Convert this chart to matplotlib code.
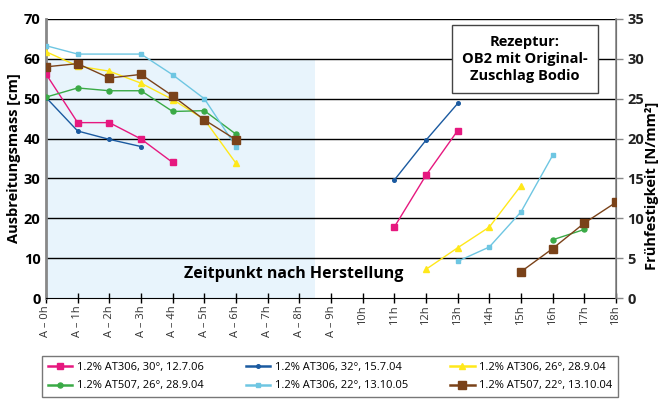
import numpy as np
import matplotlib.pyplot as plt
from matplotlib.lines import Line2D

plt.rcParams['font.family'] = ['Open Sans', 'DejaVu Sans']

# ==========================
# Daten
# ==========================
zeit_labels = ["A – 0h", "A – 1h", "A – 2h", "A – 3h", "A – 4h", "A – 5h",
               "A – 6h", "A – 7h", "A – 8h", "A – 9h", "10h", "11h", "12h",
               "13h", "14h", "15h", "16h", "17h", "18h"]

# Ausbreitungsmass [cm] (linke Achse), Index = Stunde
ab_magenta = [56.2, 44.0, 44.0, 39.9, 34.0]
ab_blau = [50.3, 41.9, 39.8, 38.0]
ab_gelb = [61.8, 58.2, 56.9, 53.9, 49.8, 44.8, 33.8]
ab_gruen = [50.4, 52.7, 52.0, 52.0, 46.8, 47.0, 41.1]
ab_cyan = [63.3, 61.2, None, 61.2, 56.0, 50.0, 38.0]
ab_braun = [58.0, 58.8, 55.2, 56.1, 50.7, 44.7, 39.7]

# Frühfestigkeit [N/mm²] (rechte Achse)
ff_magenta_h = [11, 12, 13]
ff_magenta = [8.9, 15.4, 21.0]
ff_blau_h = [11, 12, 13]
ff_blau = [14.8, 19.8, 24.4]
ff_gelb_h = [12, 13, 14, 15]
ff_gelb = [3.6, 6.3, 8.9, 14.1]
ff_gruen_h = [16, 17]
ff_gruen = [7.3, 8.6]
ff_cyan_h = [13, 14, 15, 16]
ff_cyan = [4.6, 6.4, 10.8, 17.9]
ff_braun_h = [15, 16, 17, 18]
ff_braun = [3.3, 6.2, 9.4, 12.0]

serien = [
    ("1.2% AT306, 30°, 12.7.06", "#e6187f", "s", 4.2, ab_magenta, ff_magenta_h, ff_magenta),
    ("1.2% AT306, 32°, 15.7.04", "#1b5aa0", "o", 2.6, ab_blau, ff_blau_h, ff_blau),
    ("1.2% AT306, 26°, 28.9.04", "#ffe81a", "^", 4.2, ab_gelb, ff_gelb_h, ff_gelb),
    ("1.2% AT507, 26°, 28.9.04", "#3aaa46", "o", 3.6, ab_gruen, ff_gruen_h, ff_gruen),
    ("1.2% AT306, 22°, 13.10.05", "#6ec6e2", "s", 3.0, ab_cyan, ff_cyan_h, ff_cyan),
    ("1.2% AT507, 22°, 13.10.04", "#7a4219", "s", 5.2, ab_braun, ff_braun_h, ff_braun),
]

# ==========================
# Grafik
# ==========================
fig = plt.figure(figsize=(6.61, 4.0), dpi=100)
ax = fig.add_axes([46 / 661, 1 - 298 / 400, 570 / 661, 279 / 400])
ax2 = ax.twinx()

x = np.arange(len(zeit_labels))

# Bereich "Zeitpunkt nach Herstellung"
ax.fill_between([0, 8.5], 0, 60, color="#e8f4fc", zorder=0, lw=0)

for yv in range(10, 71, 10):
    ax.axhline(yv, color="black", lw=1, zorder=1)

handles = {}
for label, farbe, marker, ms, ab, fh, ff in serien:
    hx = [i for i, v in enumerate(ab) if v is not None]
    hy = [v for v in ab if v is not None]
    ax.plot(hx, hy, color=farbe, marker=marker, ms=ms, lw=1, zorder=3)
    ax2.plot(fh, ff, color=farbe, marker=marker, ms=ms, lw=1, zorder=3)
    handles[label] = Line2D([], [], color=farbe, marker=marker, ms=ms,
                            lw=1.8, alpha=1)

ax.set_xlim(0, 18)
ax.set_ylim(0, 70)
ax2.set_ylim(0, 35)
ax.set_yticks(range(0, 71, 10))
ax2.set_yticks(range(0, 36, 5))

ax.set_xticks(x)
ax.set_xticklabels(zeit_labels, rotation=90, fontsize=8, color="#333333")
ax.tick_params(axis="x", direction="inout", length=7, width=1, pad=2)
ax.tick_params(axis="y", length=0, labelsize=10.5, pad=4)
ax2.tick_params(axis="y", direction="out", length=5, width=1,
                colors="#888888", labelcolor="#222222", labelsize=10.5, pad=3)
for t in ax.get_yticklabels() + ax2.get_yticklabels():
    t.set_fontweight("bold")

for s in ["top"]:
    ax.spines[s].set_visible(False)
    ax2.spines[s].set_visible(False)
ax.spines["left"].set_color("#888888")
ax.spines["left"].set_linewidth(2)
ax2.spines["right"].set_color("#888888")
ax2.spines["right"].set_linewidth(1.2)
ax.spines["bottom"].set_color("black")
ax2.spines["bottom"].set_visible(False)
ax2.spines["left"].set_visible(False)

ax.set_ylabel("Ausbreitungsmass [cm]", fontsize=10.5, fontweight="bold", labelpad=2)
fig.text(652 / 661, 1 - 270 / 400, "Frühfestigkeit [N/mm²]", rotation=90,
         fontsize=10.5, fontweight="bold", ha="center", va="bottom")

ax.text(7.83, 6.0, "Zeitpunkt nach Herstellung", fontsize=11.5,
        fontweight="bold", ha="center", va="center", zorder=4)

ax2.text(525 / 661, 1 - 59 / 400, "Rezeptur:\nOB2 mit Original-\nZuschlag Bodio",
         transform=fig.transFigure, fontsize=10.5, fontweight="bold",
         ha="center", va="center", linespacing=1.25, zorder=5,
         bbox=dict(boxstyle="square,pad=0.7", fc="white", ec="#444444", lw=1))

reihenfolge = [serien[0][0], serien[3][0], serien[1][0],
               serien[4][0], serien[2][0], serien[5][0]]
fig.legend([handles[r] for r in reihenfolge], reihenfolge, ncol=3,
           loc="lower center", bbox_to_anchor=(330 / 661, 3 / 400),
           borderaxespad=0, fontsize=8, frameon=True, fancybox=False,
           edgecolor="#555555", handlelength=2.2, columnspacing=3.8,
           borderpad=0.5, labelspacing=0.7, handletextpad=0.4)

plt.savefig("out.png", dpi=100)
plt.close()
